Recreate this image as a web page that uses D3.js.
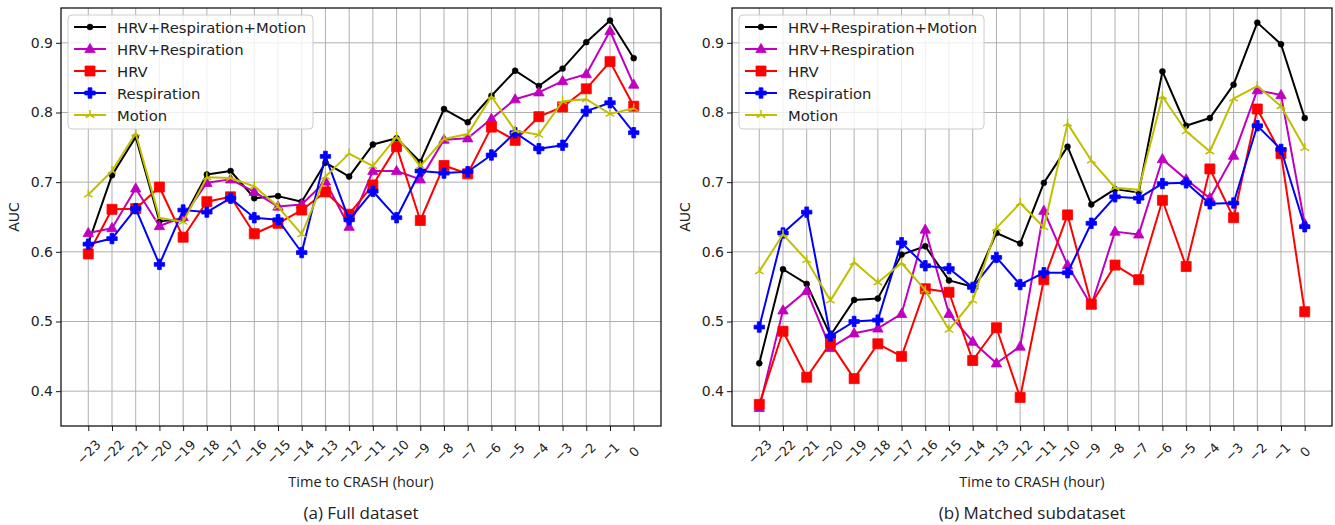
<!DOCTYPE html>
<html>
<head>
<meta charset="utf-8">
<script src="https://cdn.jsdelivr.net/npm/d3@7/dist/d3.min.js"></script>
<style>
  html, body { margin: 0; padding: 0; background: #ffffff; }
  svg { display: block; }
</style>
</head>
<body>
<svg id="chart" width="1335" height="525"></svg>
<script>
// ---------- data ----------
const hours = [-23,-22,-21,-20,-19,-18,-17,-16,-15,-14,-13,-12,-11,-10,-9,-8,-7,-6,-5,-4,-3,-2,-1,0];
const seriesNames = ["HRV+Respiration+Motion","HRV+Respiration","HRV","Respiration","Motion"];
const yTicks = [0.4,0.5,0.6,0.7,0.8,0.9];
const panelTitles = ["(a) Full dataset","(b) Matched subdataset"];
const xAxisLabel = "Time to CRASH (hour)";
const yAxisLabel = "AUC";

// (a) Full dataset
const fullHRM    = [0.612,0.710,0.765,0.644,0.647,0.711,0.716,0.677,0.680,0.672,0.728,0.708,0.754,0.763,0.729,0.805,0.786,0.824,0.860,0.838,0.863,0.901,0.932,0.878];
const fullHR     = [0.627,0.634,0.691,0.637,0.650,0.699,0.704,0.686,0.665,0.668,0.701,0.636,0.716,0.716,0.704,0.761,0.763,0.791,0.819,0.829,0.845,0.855,0.917,0.840];
const fullHRV    = [0.597,0.661,0.662,0.693,0.621,0.672,0.679,0.626,0.641,0.660,0.686,0.654,0.696,0.751,0.645,0.724,0.712,0.779,0.760,0.794,0.808,0.834,0.873,0.809];
const fullResp   = [0.611,0.619,0.662,0.582,0.660,0.657,0.677,0.649,0.646,0.599,0.737,0.646,0.687,0.649,0.716,0.713,0.715,0.739,0.771,0.748,0.753,0.802,0.814,0.771];
const fullMotion = [0.682,0.716,0.770,0.649,0.643,0.707,0.706,0.694,0.665,0.625,0.708,0.741,0.723,0.765,0.723,0.762,0.769,0.823,0.774,0.768,0.816,0.819,0.798,0.806];

// (b) Matched subdataset
const subHRM    = [0.440,0.575,0.554,0.480,0.531,0.533,0.596,0.608,0.559,0.550,0.627,0.612,0.699,0.751,0.668,0.690,0.685,0.859,0.781,0.792,0.840,0.929,0.898,0.792];
const subHR     = [0.376,0.516,0.544,0.462,0.483,0.490,0.511,0.632,0.511,0.471,0.440,0.464,0.659,0.581,0.523,0.629,0.625,0.733,0.704,0.677,0.738,0.832,0.825,0.640];
const subHRV    = [0.381,0.486,0.420,0.469,0.418,0.468,0.450,0.547,0.542,0.444,0.491,0.391,0.560,0.653,0.525,0.581,0.560,0.674,0.579,0.719,0.649,0.805,0.741,0.514];
const subResp   = [0.492,0.627,0.657,0.479,0.500,0.502,0.613,0.580,0.576,0.549,0.592,0.553,0.570,0.570,0.641,0.679,0.677,0.698,0.699,0.669,0.670,0.781,0.747,0.636];
const subMotion = [0.572,0.625,0.588,0.530,0.585,0.556,0.584,0.545,0.488,0.530,0.634,0.670,0.635,0.784,0.731,0.692,0.689,0.823,0.773,0.744,0.820,0.838,0.809,0.749];

// ---------- styles ----------
const colors = ["#000000","#bf00bf","#ff0000","#0000ff","#bfbf00"];
const markers = ["dot","triangle","square","plus","tri"];

const panels = [
  { x0: 61,  title: panelTitles[0], data: [fullHRM, fullHR, fullHRV, fullResp, fullMotion] },
  { x0: 732, title: panelTitles[1], data: [subHRM, subHR, subHRV, subResp, subMotion] }
];

const plotW = 600, plotTop = 8, plotBottom = 426;
const svg = d3.select("#chart");
const tickFont = "DejaVu Sans, sans-serif";

function markerPath(type) {
  switch (type) {
    case "dot": return d3.symbol(d3.symbolCircle, 28)();
    case "triangle": return "M0,-5.6L5.2,3.6L-5.2,3.6Z";
    case "square": return "M-5,-5H5V5H-5Z";
    case "plus": return "M-1.9,-5.2H1.9V-1.9H5.2V1.9H1.9V5.2H-1.9V1.9H-5.2V-1.9H-1.9Z";
    case "tri": return "M0,0V-5M0,0L-4.3,2.5M0,0L4.3,2.5";
  }
}

function drawMarker(g, type, color, x, y) {
  const p = g.append("path").attr("d", markerPath(type)).attr("transform", `translate(${x},${y})`);
  if (type === "tri") {
    p.attr("fill", "none").attr("stroke", color).attr("stroke-width", 1.5);
  } else {
    p.attr("fill", color).attr("stroke", color).attr("stroke-width", type === "dot" ? 0.5 : 0.8);
  }
}

panels.forEach(panel => {
  const x = d3.scaleLinear().domain([-24.15, 1.15]).range([panel.x0, panel.x0 + plotW]);
  const y = d3.scaleLinear().domain([0.35, 0.95]).range([plotBottom, plotTop]);
  const g = svg.append("g");

  // grid
  g.append("g").selectAll("line").data(hours).join("line")
    .attr("x1", d => x(d)).attr("x2", d => x(d)).attr("y1", plotTop).attr("y2", plotBottom)
    .attr("stroke", "#b0b0b0").attr("stroke-width", 1);
  g.append("g").selectAll("line").data(yTicks).join("line")
    .attr("x1", panel.x0).attr("x2", panel.x0 + plotW).attr("y1", d => y(d)).attr("y2", d => y(d))
    .attr("stroke", "#b0b0b0").attr("stroke-width", 1);

  // x axis
  const xAxis = d3.axisBottom(x).tickValues(hours).tickSize(5).tickFormat("");
  const xg = g.append("g").attr("transform", `translate(0,${plotBottom})`).call(xAxis);
  xg.select(".domain").remove();
  xg.selectAll(".tick line").attr("stroke", "#000").attr("stroke-width", 0.9);
  xg.selectAll(".tick").append("text")
    .attr("fill", "#222")
    .attr("font-family", tickFont).attr("font-size", 13)
    .attr("text-anchor", "middle").attr("dominant-baseline", "central")
    .attr("transform", "translate(0,26) rotate(-45)")
    .text(d => d < 0 ? "\u2212" + Math.abs(d) : String(d));

  // y axis
  const yAxis = d3.axisLeft(y).tickValues(yTicks).tickSize(5).tickPadding(3).tickFormat(d3.format(".1f"));
  const yg = g.append("g").attr("transform", `translate(${panel.x0},0)`).call(yAxis);
  yg.select(".domain").remove();
  yg.selectAll(".tick line").attr("stroke", "#000").attr("stroke-width", 0.9);
  yg.selectAll(".tick text").attr("fill", "#222").attr("font-family", tickFont).attr("font-size", 14);

  // series
  panel.data.forEach((vals, si) => {
    const pts = hours.map((h, i) => [x(h), y(vals[i])]);
    g.append("path").attr("d", d3.line()(pts))
      .attr("fill", "none").attr("stroke", colors[si]).attr("stroke-width", 2)
      .attr("stroke-linejoin", "round");
    const mg = g.append("g");
    pts.forEach(p => drawMarker(mg, markers[si], colors[si], p[0], p[1]));
  });

  // frame
  g.append("rect").attr("x", panel.x0).attr("y", plotTop).attr("width", plotW).attr("height", plotBottom - plotTop)
    .attr("fill", "none").attr("stroke", "#000").attr("stroke-width", 1.2);

  // legend
  const lx = panel.x0 + 7, ly = 15;
  const lg = g.append("g");
  lg.append("rect").attr("x", lx).attr("y", ly).attr("width", 245).attr("height", 114)
    .attr("rx", 4).attr("fill", "#ffffff").attr("fill-opacity", 0.8)
    .attr("stroke", "#cccccc").attr("stroke-width", 1);
  seriesNames.forEach((name, si) => {
    const ry = ly + 12 + si * 22;
    lg.append("line").attr("x1", lx + 6).attr("x2", lx + 38).attr("y1", ry).attr("y2", ry)
      .attr("stroke", colors[si]).attr("stroke-width", 2);
    drawMarker(lg, markers[si], colors[si], lx + 22, ry);
    lg.append("text").attr("x", lx + 49).attr("y", ry).attr("dominant-baseline", "central")
      .attr("font-family", tickFont).attr("font-size", 14.8).attr("fill", "#222").text(name);
  });

  // axis labels
  const cx = panel.x0 + plotW / 2;
  g.append("text").attr("x", cx).attr("y", 487).attr("text-anchor", "middle")
    .attr("font-family", "Open Sans, sans-serif").attr("font-size", 14.5).attr("fill", "#222")
    .text(xAxisLabel);
  g.append("text").attr("transform", `translate(${panel.x0 - 47},${(plotTop + plotBottom) / 2}) rotate(-90)`)
    .attr("text-anchor", "middle").attr("dominant-baseline", "central")
    .attr("font-family", tickFont).attr("font-size", 14).attr("fill", "#222").text(yAxisLabel);
  g.append("text").attr("x", cx).attr("y", 519).attr("text-anchor", "middle")
    .attr("font-family", "Open Sans, sans-serif").attr("font-size", 17).attr("fill", "#222")
    .text(panel.title);
});
</script>
</body>
</html>
